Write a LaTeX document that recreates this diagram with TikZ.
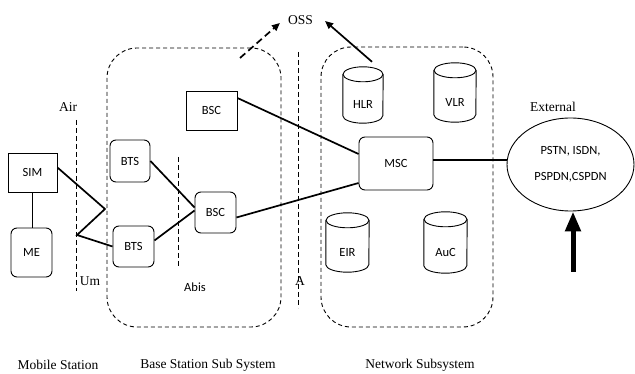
\documentclass[tikz,border=0pt]{standalone}
\usepackage{fontspec}
\setmainfont{Liberation Serif}
\newfontfamily\boxfont{Carlito}
\usetikzlibrary{arrows.meta,shapes.geometric,calc}
\tikzset{
  box/.style={draw, line width=0.9pt, font=\boxfont\fontsize{12.5}{14}\selectfont, inner sep=0pt},
  rbox/.style={box, rounded corners=6pt},
  conn/.style={line width=1.7pt},
  group/.style={draw, dash pattern=on 4pt off 3pt, line width=0.9pt, rounded corners=30pt, inner sep=0pt},
  divider/.style={dash pattern=on 5pt off 3pt, line width=0.9pt},
  serif/.style={font=\fontsize{13.5}{16}\selectfont, inner sep=0pt},
  sanslabel/.style={font=\boxfont\fontsize{12.5}{14}\selectfont, inner sep=0pt},
  cylbox/.style={inner sep=0pt},
  cyltext/.style={font=\boxfont\fontsize{12.5}{14}\selectfont, inner sep=0pt},
  cylline/.style={line width=0.9pt},
  tip/.style={-{Triangle[length=8pt,width=7pt]}},
}
\newcommand\mycyl[3]{%
  \draw[cylline] ([yshift=-#3]#1.north west) -- ([yshift=#3]#1.south west)
     arc[start angle=180,end angle=360,x radius=#2,y radius=#3] -- ([yshift=-#3]#1.north east);
  \draw[cylline] ([yshift=-#3]#1.north) ellipse[x radius=#2,y radius=#3];}
\begin{document}
\begin{tikzpicture}[x=1pt,y=-1pt]
\useasboundingbox (0,0) rectangle (635,374);
% groups
\node[group, minimum width=174pt, minimum height=279pt] (bss) at (194,187.5) {};
\node[group, minimum width=172pt, minimum height=280pt] (nss) at (407,187) {};
% dividers
\draw[divider] (76,120) -- (76,291);
\draw[divider] (178,157) -- (178,267);
\draw[divider] (298,52) -- (298,308);
% interface labels
\node[serif] (air) at (68,107) {Air};
\node[serif] (um) at (90,281) {Um};
\node[sanslabel] (abis) at (195,287) {Abis};
\node[serif] (alab) at (300,281) {A};
\node[serif] (oss) at (300.5,20) {OSS};
\node[serif] (external) at (553,107) {External};
% mobile station
\node[box, minimum width=49pt, minimum height=39pt] (sim) at (32.5,172.5) {SIM};
\node[rbox, minimum width=41pt, minimum height=49pt] (me) at (31.5,252.5) {ME};
% BSS
\node[rbox, minimum width=40pt, minimum height=42pt] (bts1) at (130,161) {BTS};
\node[rbox, minimum width=41pt, minimum height=41pt] (bts2) at (133.5,246.5) {BTS};
\node[box, minimum width=51pt, minimum height=39pt] (bsc1) at (211.5,110.5) {BSC};
\node[rbox, minimum width=41pt, minimum height=41pt] (bsc2) at (215.5,212.5) {BSC};
% NSS
\node[rbox, minimum width=74pt, minimum height=53pt] (msc) at (396,163.5) {MSC};
\node[cylbox, minimum width=40pt, minimum height=56pt, label={[cyltext,yshift=-9.5pt]center:HLR}] (hlr) at (363,95) {};
\node[cylbox, minimum width=42pt, minimum height=59pt, label={[cyltext,yshift=-9.5pt]center:VLR}] (vlr) at (455,92.5) {};
\node[cylbox, minimum width=43pt, minimum height=59pt, label={[cyltext,yshift=-9.5pt]center:EIR}] (eir) at (347.5,242.5) {};
\node[cylbox, minimum width=43pt, minimum height=61pt, label={[cyltext,yshift=-9.5pt]center:AuC}] (auc) at (445.5,242.5) {};
\mycyl{hlr}{20pt}{7.5pt}
\mycyl{vlr}{21pt}{7.5pt}
\mycyl{eir}{21.5pt}{7.5pt}
\mycyl{auc}{21.5pt}{7.5pt}
% external
\node[ellipse, draw, line width=0.9pt, inner sep=0pt, minimum width=127pt, minimum height=93pt,
      align=center, font=\boxfont\fontsize{12.5}{26}\selectfont] (ext) at (570.5,164.5) {PSTN, ISDN,\\PSPDN,CSPDN};
% bottom labels
\node[serif] (ms) at (58,365) {Mobile Station};
\node[serif] (bsslab) at (208,365) {Base Station Sub System};
\node[serif] (nsslab) at (420,365) {Network Subsystem};
% connectors
\coordinate (z1) at (105,209);
\coordinate (z2) at (77,235);
\coordinate (d0) at (240,58);
\coordinate (t0) at (573,272);
\draw[conn] (sim.south) -- (sim.south |- me.north);
\draw[conn] ([yshift=5pt]sim.east) -- (z1) -- (z2) -- (bts2.west);
\draw[conn] (bts1.east) -- ([yshift=5pt]bsc2.west);
\draw[conn] ([yshift=6pt]bts2.east) -- ([yshift=2pt]bsc2.west);
\draw[conn] ([yshift=-5pt]bsc2.east) -- ([yshift=-19.5pt]msc.west);
\draw[conn] ([yshift=12.5pt]bsc1.east) -- ([yshift=9.5pt]msc.west);
\draw[line width=2.3pt] ([yshift=3.5pt]msc.east) -- ([yshift=3.5pt]msc.east -| ext.west);
\draw[line width=5pt, -{Triangle[width=15pt,length=20pt]}] (t0) -- (t0 |- ext.south);
\draw[conn, tip] ([xshift=9pt,yshift=5pt]hlr.north) -- ([xshift=12pt,yshift=-1pt]oss.east);
\draw[conn, tip, dash pattern=on 7pt off 4pt] (d0) -- ([xshift=-8pt,yshift=-3pt]oss.west);
\end{tikzpicture}
\end{document}
